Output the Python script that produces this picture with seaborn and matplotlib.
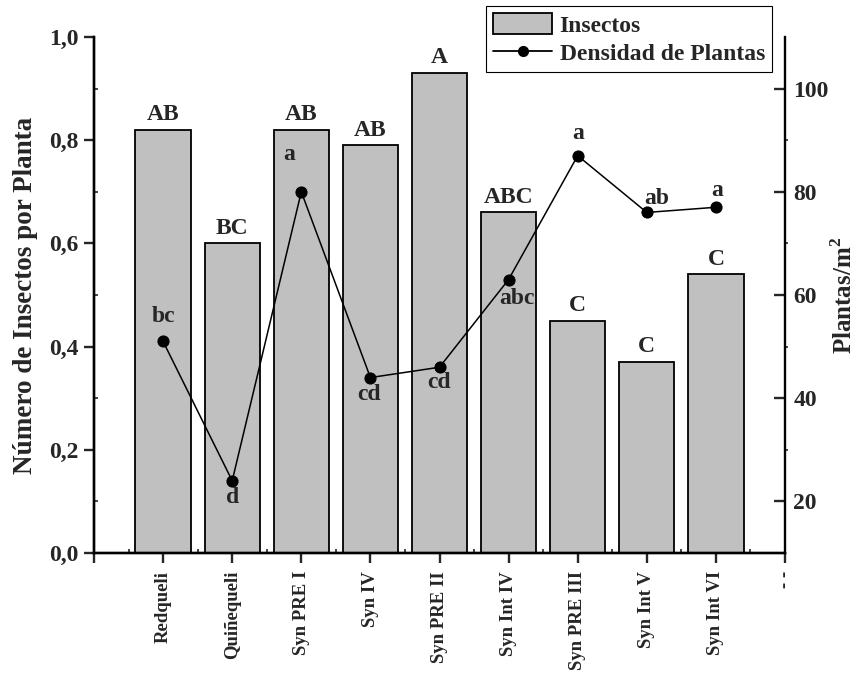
import numpy as np
import pandas as pd
import matplotlib
matplotlib.use("Agg")
import matplotlib.pyplot as plt
from matplotlib.ticker import FixedLocator, MultipleLocator, FuncFormatter
from matplotlib.patches import Patch
from matplotlib.lines import Line2D
import seaborn as sns

# ---- data ---------------------------------------------------------------
cultivares = ["Redqueli", "Quiñequeli", "Syn PRE I", "Syn IV", "Syn PRE II",
              "Syn Int IV", "Syn PRE III", "Syn Int V", "Syn Int VI"]
insectos = [0.82, 0.60, 0.82, 0.79, 0.93, 0.66, 0.45, 0.37, 0.54]
letras_insectos = ["AB", "BC", "AB", "AB", "A", "ABC", "C", "C", "C"]
densidad = [51, 24, 80, 44, 46, 63, 87, 76, 77]
letras_densidad = ["bc", "d", "a", "cd", "cd", "abc", "a", "ab", "a"]

# label offsets (points) for the density letters
offs_densidad = [(0, 18), (0, -12), (-9, 27), (-1, -12), (0, -11),
                 (6, -14), (0, 16), (7, 10), (1, 12)]

sns.set_style("white")
plt.rcParams["font.family"] = ["Liberation Serif", "DejaVu Serif"]
plt.rcParams["font.weight"] = "bold"
plt.rcParams["axes.labelweight"] = "bold"
plt.rcParams["mathtext.fontset"] = "custom"
plt.rcParams["mathtext.bf"] = "Liberation Serif:bold"
plt.rcParams["mathtext.rm"] = "Liberation Serif:bold"

pos = np.arange(len(cultivares))
df = pd.DataFrame({"pos": pos, "insectos": insectos, "densidad": densidad})

fig = plt.figure(figsize=(8.64, 6.75), dpi=100)
ax = fig.add_axes([94 / 864, 1 - 553 / 675, (785 - 94) / 864, (553 - 37) / 675])

sns.barplot(data=df, x="pos", y="insectos", native_scale=True, width=0.8,
            color="#c0c0c0", saturation=1, edgecolor="black", linewidth=1.3,
            errorbar=None, ax=ax)

ax2 = ax.twinx()
sns.lineplot(data=df, x="pos", y="densidad", color="black", marker="o",
             markersize=8, markeredgecolor="black", linewidth=1.1, ax=ax2)

# axes limits and ticks
ax.set_xlim(-1, len(cultivares))
ax.set_ylim(0, 1.0)
ax2.set_ylim(10, 110)

ax.xaxis.set_major_locator(FixedLocator(np.arange(-1, len(cultivares) + 1)))
ax.set_xticklabels([""] + cultivares + ["- -"], rotation=90, fontsize=13.5,
                   fontweight="bold")
ax.xaxis.set_minor_locator(FixedLocator(np.arange(-0.5, len(cultivares), 1.0)))
ax.yaxis.set_major_locator(MultipleLocator(0.2))
ax.yaxis.set_minor_locator(MultipleLocator(0.1))
ax.yaxis.set_major_formatter(FuncFormatter(lambda v, p: f"{v:.1f}".replace(".", ",")))
ax2.yaxis.set_major_locator(FixedLocator([20, 40, 60, 80, 100]))
ax2.yaxis.set_minor_locator(FixedLocator([30, 50, 70, 90]))

lw = 1.7
for a in (ax, ax2):
    for s in a.spines.values():
        s.set_linewidth(lw)
        s.set_color("black")
    a.spines["top"].set_visible(False)
ax.spines["right"].set_visible(False)

ax.tick_params(axis="x", which="major", direction="out", length=7, width=lw,
               pad=6, bottom=True)
ax.tick_params(axis="x", which="minor", direction="in", length=3, width=1.2,
               bottom=True)
ax.tick_params(axis="y", which="major", direction="out", length=7, width=lw,
               labelsize=17, pad=4, left=True)
ax.tick_params(axis="y", which="minor", direction="in", length=3, width=1.2,
               left=True)
ax2.tick_params(axis="y", which="major", direction="in", length=8, width=lw,
                labelsize=17, pad=6, right=True)
ax2.tick_params(axis="y", which="minor", direction="out", length=2, width=1.2,
                right=True)
for t in ax.get_yticklabels() + ax2.get_yticklabels():
    t.set_fontweight("bold")

ax.set_xlabel("")
ax.set_ylabel("Número de Insectos por Planta", fontsize=19.5, fontweight="bold",
              labelpad=8)
ax2.set_ylabel("Plantas/m$^\\mathbf{2}$", fontsize=18, fontweight="bold",
               labelpad=2)

# significance letters
for i, (v, t) in enumerate(zip(insectos, letras_insectos)):
    ax.annotate(t, (i, v), xytext=(0, 11), textcoords="offset points",
                ha="center", va="center", fontsize=17, fontweight="bold")
for i, (v, t, o) in enumerate(zip(densidad, letras_densidad, offs_densidad)):
    ax2.annotate(t, (i, v), xytext=o, textcoords="offset points",
                 ha="center", va="center", fontsize=17, fontweight="bold")

if ax2.get_legend() is not None:
    ax2.get_legend().remove()

handles = [Patch(facecolor="#c0c0c0", edgecolor="black", linewidth=1.3),
           Line2D([], [], color="black", marker="o", markersize=7, linewidth=1.3)]
leg = fig.legend(handles, ["Insectos", "Densidad de Plantas"],
                 loc="upper right", bbox_to_anchor=(772 / 864, 1 - 6 / 675),
                 frameon=True, fancybox=False, framealpha=1, edgecolor="black",
                 prop={"size": 17, "weight": "bold"}, handlelength=2.5,
                 handleheight=1.0, borderpad=0.3, labelspacing=0.2,
                 handletextpad=0.3, borderaxespad=0)
leg.get_frame().set_linewidth(0.8)

fig.savefig("out.png", dpi=100)
